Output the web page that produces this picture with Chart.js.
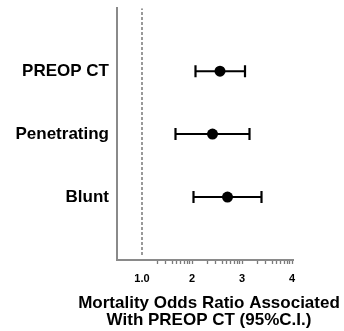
<!DOCTYPE html>
<html><head><meta charset="utf-8">
<script src="https://cdn.jsdelivr.net/npm/chart.js@4.4.1/dist/chart.umd.min.js"></script>
<style>html,body{margin:0;padding:0;background:#fff}#wrap{width:344px;height:331px}</style>
</head><body><div id="wrap"><canvas id="c" width="344" height="331"></canvas></div>
<script>
const categories = ['PREOP CT', 'Penetrating', 'Blunt'];
const categoryPos = [3, 2, 1];
const oddsRatio = [2.56, 2.41, 2.71];
const ciLower = [2.07, 1.67, 2.03];
const ciUpper = [3.06, 3.15, 3.39];
const xMajorTicks = [1, 2, 3, 4];
const xTickLabels = ['1.0', '2', '3', '4'];
const refValue = 1;
const xTitle = ['Mortality Odds Ratio Associated', 'With PREOP CT (95%C.I.)'];

const minorTicks = [];
for (let n = 1; n < 4; n++) for (let k = 2; k <= 9; k++) minorTicks.push(n + Math.log10(k));

const FONT = "'Liberation Sans', Arial, sans-serif";
const datasets = [];
datasets.push({
  data: [{x: refValue, y: 0.08}, {x: refValue, y: 4}],
  showLine: true, borderColor: '#808080', borderWidth: 1.6, borderDash: [3, 2],
  pointRadius: 0
});
categories.forEach((c, i) => {
  datasets.push({
    data: [{x: ciLower[i], y: categoryPos[i]}, {x: ciUpper[i], y: categoryPos[i]}],
    showLine: true, borderColor: '#000', borderWidth: 2,
    pointStyle: 'line', rotation: 90, pointRadius: 6, pointBorderWidth: 2.2,
    pointBorderColor: '#000', pointBackgroundColor: '#000'
  });
});
datasets.push({
  data: categories.map((c, i) => ({x: oddsRatio[i], y: categoryPos[i]})),
  pointRadius: 5.5, pointBackgroundColor: '#000', pointBorderColor: '#000', pointBorderWidth: 0
});

const noPad = s => { s.paddingTop = 0; s.paddingBottom = 0; s.paddingLeft = 0; s.paddingRight = 0; };

new Chart(document.getElementById('c'), {
  type: 'scatter',
  data: {datasets},
  options: {
    responsive: false, animation: false, devicePixelRatio: 1,
    layout: {padding: {top: 7, right: 0, left: 74, bottom: 0}},
    plugins: {
      legend: {display: false}, tooltip: {enabled: false},
      title: {
        display: true, position: 'bottom', align: 'center', text: xTitle,
        color: '#000', padding: {top: 0, bottom: 2},
        font: {family: FONT, size: 17, weight: 'bold', lineHeight: 1.0}
      }
    },
    scales: {
      x: {
        type: 'linear', min: 0.5, max: 4.02,
        afterBuildTicks: s => { s.ticks = xMajorTicks.concat(minorTicks).sort((a,b)=>a-b).map(v => ({value: v})); },
        afterFit: s => { s.height = 35; noPad(s); },
        ticks: {
          autoSkip: false, maxRotation: 0, padding: 8, color: '#000',
          font: {family: FONT, size: 11, weight: 'bold'},
          callback: v => { const i = xMajorTicks.indexOf(v); return i >= 0 ? xTickLabels[i] : ''; }
        },
        grid: {
          display: true, drawOnChartArea: false, drawTicks: true, tickLength: 4,
          tickWidth: 1.3,
          tickColor: ctx => (ctx.tick && ctx.tick.value === refValue) ? 'rgba(0,0,0,0)' : '#7a7a7a'
        },
        border: {display: true, color: '#8a8a8a', width: 2}
      },
      y: {
        type: 'linear', min: 0, max: 4,
        afterBuildTicks: s => { s.ticks = categoryPos.map(v => ({value: v})); },
        afterFit: s => { s.width = 43; noPad(s); s._computeLabelArea = () => undefined; },
        ticks: {
          padding: 8, color: '#000', autoSkip: false,
          font: {family: FONT, size: 17, weight: 'bold'},
          callback: v => { const i = categoryPos.indexOf(v); return i >= 0 ? categories[i] : ''; }
        },
        grid: {display: false, drawTicks: false},
        border: {display: true, color: '#8a8a8a', width: 2}
      },
      yPad: {
        type: 'linear', position: 'right', min: 0, max: 4, display: true,
        afterFit: s => { s.width = 51; noPad(s); },
        ticks: {display: false},
        grid: {display: false, drawTicks: false},
        border: {display: false}
      }
    }
  }
});
</script></body></html>
